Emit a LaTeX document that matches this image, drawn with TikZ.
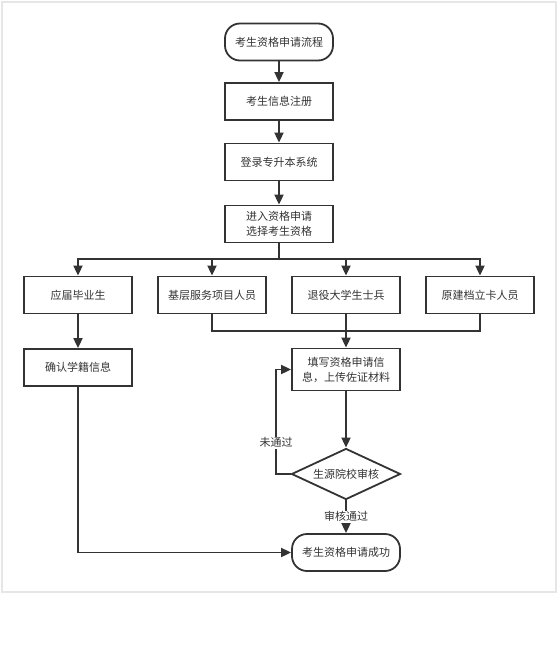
\documentclass[tikz,border=0pt]{standalone}
\usepackage{fontspec}
\newfontfamily\cjk{Noto Sans CJK SC}
\usetikzlibrary{shapes.geometric,arrows.meta}
\definecolor{ink}{HTML}{333333}
\definecolor{frame}{HTML}{E6E6E6}
\tikzset{
  >={Triangle[length=10pt,width=9pt]},
  flow/.style={line width=1.8pt,draw=ink},
  stepbox/.style={rectangle,flow,minimum width=108pt,minimum height=37pt,inner sep=2pt,align=center},
  termbox/.style={stepbox,rounded corners=15pt},
  checkbox/.style={diamond,flow,minimum width=109pt,minimum height=51pt,inner sep=0pt,aspect=2.1},
  lbl/.style={fill=white,inner sep=1pt}
}
\begin{document}
\begin{tikzpicture}[x=1pt,y=-1pt,font=\cjk\fontsize{11}{15}\selectfont,text=ink]
    \useasboundingbox (0,0) rectangle (559,672);
    \draw[frame,line width=1.5pt] (2,2) rectangle (556,592);

    \begin{scope}
        \node[termbox] (start) at (279,42) {考生资格申请流程};
        \node[stepbox] (reg) at (279,101.5) {考生信息注册};
        \node[stepbox] (login) at (279,162) {登录专升本系统};
        \node[stepbox] (enter) at (279,224) {进入资格申请\\选择考生资格};

        \node[stepbox] (grad) at (78,295) {应届毕业生};
        \node[stepbox] (basic) at (212,295) {基层服务项目人员};
        \node[stepbox] (vet) at (346,295) {退役大学生士兵};
        \node[stepbox] (poor) at (480,295) {原建档立卡人员};

        \node[stepbox] (confirm) at (78,367.5) {确认学籍信息};
        \node[stepbox,minimum height=42pt] (fill) at (346,369.5) {填写资格申请信\\息，上传佐证材料};
        \node[checkbox] (review) at (346,474) {生源院校审核};
        \node[termbox] (done) at (346,552.5) {考生资格申请成功};

        \coordinate (split) at (279,259);
        \coordinate (merge) at (346,331);
        \coordinate (loop) at (276,474);
    \end{scope}

    \begin{scope}[flow]
        \draw [->] (start) -- (reg);
        \draw [->] (reg) -- (login);
        \draw [->] (login) -- (enter);

        \draw (enter) -- (split);
        \draw [->] (split) -| (grad);
        \draw [->] (split) -| (basic);
        \draw [->] (split) -| (vet);
        \draw [->] (split) -| (poor);

        \draw (basic) |- (merge);
        \draw (poor) |- (merge);
        \draw [->] (vet) -- (fill);
        \draw [->] (grad) -- (confirm);

        \draw [->] (fill) -- (review);
        \draw [->] (review) -- (loop) |- node[lbl,pos=0.15] {未通过} (fill);
        \draw [->] (review) -- node[lbl] {审核通过} (done);
        \draw [->] (confirm) |- (done);
    \end{scope}
\end{tikzpicture}
\end{document}
